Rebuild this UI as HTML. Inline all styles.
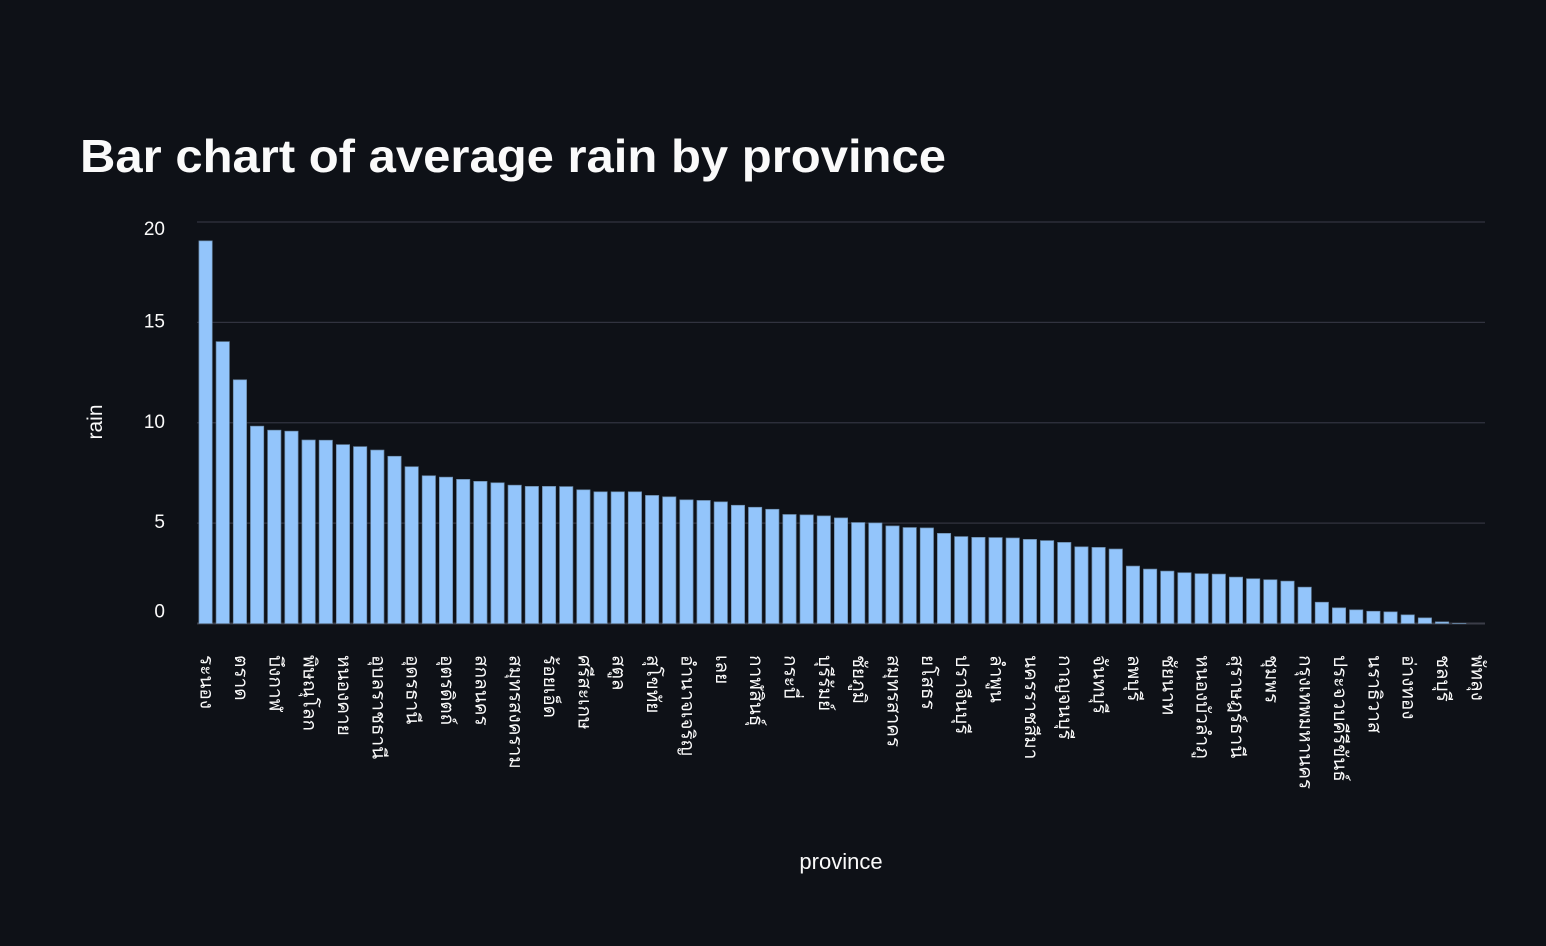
<!DOCTYPE html>
<html><head><meta charset="utf-8">
<style>
html,body{margin:0;padding:0;background:#0e1117;}
svg{display:block;}
</style></head>
<body>
<svg id="chart" width="1546" height="946" xmlns="http://www.w3.org/2000/svg">
<rect x="0" y="0" width="1546" height="946" fill="#0e1117"/>
<text x="80" y="172" fill="#fafafa" font-family="Liberation Sans, sans-serif" font-weight="bold" font-size="46" textLength="866" lengthAdjust="spacingAndGlyphs">Bar chart of average rain by province</text>
<g id="grid"></g>
<g id="bars"></g>
<g id="xlabels"></g>
<g id="ylabels"></g>
<text transform="translate(102,422) rotate(-90)" text-anchor="middle" fill="#fafafa" font-family="Liberation Sans, sans-serif" font-size="21">rain</text>
<text x="841" y="869" text-anchor="middle" fill="#fafafa" font-family="Liberation Sans, sans-serif" font-size="22">province</text>
</svg>
<script>
const provinces = ["ระนอง","พังงา","ตราด","นครพนม","บึงกาฬ","มุกดาหาร","พิษณุโลก","แพร่","หนองคาย","น่าน","อุบลราชธานี","ขอนแก่น","อุดรธานี","เชียงราย","อุตรดิตถ์","พะเยา","สกลนคร","ตรัง","สมุทรสงคราม","มหาสารคาม","ร้อยเอ็ด","สุรินทร์","ศรีสะเกษ","ยะลา","สตูล","ภูเก็ต","สุโขทัย","เชียงใหม่","อำนาจเจริญ","ลำปาง","เลย","แม่ฮ่องสอน","กาฬสินธุ์","นครศรีธรรมราช","กระบี่","ปัตตานี","บุรีรัมย์","สงขลา","ชัยภูมิ","ตาก","สมุทรสาคร","เพชรบูรณ์","ยโสธร","กำแพงเพชร","ปราจีนบุรี","พิจิตร","ลำพูน","นครสวรรค์","นครราชสีมา","อุทัยธานี","กาญจนบุรี","สระแก้ว","จันทบุรี","ระยอง","ลพบุรี","ฉะเชิงเทรา","ชัยนาท","นครนายก","หนองบัวลำภู","สระบุรี","สุราษฎร์ธานี","สิงห์บุรี","ชุมพร","ราชบุรี","กรุงเทพมหานคร","เพชรบุรี","ประจวบคีรีขันธ์","นครปฐม","นราธิวาส","สุพรรณบุรี","อ่างทอง","นนทบุรี","ชลบุรี","ปทุมธานี","พัทลุง"];
const rain = [19.06,14.04,12.14,9.83,9.63,9.58,9.14,9.13,8.91,8.81,8.64,8.33,7.81,7.36,7.29,7.18,7.08,7.01,6.89,6.83,6.83,6.82,6.66,6.56,6.56,6.56,6.38,6.31,6.16,6.13,6.06,5.89,5.79,5.69,5.43,5.41,5.36,5.26,5.03,5.01,4.86,4.78,4.76,4.49,4.33,4.29,4.28,4.26,4.19,4.13,4.04,3.82,3.79,3.71,2.86,2.71,2.61,2.53,2.48,2.46,2.31,2.23,2.18,2.11,1.81,1.06,0.78,0.68,0.61,0.58,0.43,0.28,0.08,0.01,0];
const yTicks = [0,5,10,15,20];

const NS = "http://www.w3.org/2000/svg";
const X0 = 197, X1 = 1485, Y0 = 623.5, YTOP = 222;
const yMax = 20;
function y(v){ return Y0 - (v / yMax) * (Y0 - YTOP); }
const band = (X1 - X0) / provinces.length;
function x(i){ return X0 + i * band; }

const grid = document.getElementById('grid');
const ylab = document.getElementById('ylabels');
yTicks.forEach((t, k) => {
  const l = document.createElementNS(NS, 'line');
  
  
  l.setAttribute('x1', X0); l.setAttribute('x2', X1);
  l.setAttribute('y1', y(t)); l.setAttribute('y2', y(t));
  l.setAttribute('stroke', t === 0 ? '#3b3d48' : '#31333f');
  l.setAttribute('stroke-width', t === 0 ? 2 : 1.3);
  grid.appendChild(l);
  const tx = document.createElementNS(NS, 'text');
  
  
  let off = 0;
  if (k === 0) off = -11; else if (k === yTicks.length - 1) off = 8;
  tx.setAttribute('x', 165); tx.setAttribute('y', y(t) + off);
  tx.setAttribute('text-anchor', 'end');
  tx.setAttribute('dominant-baseline', 'middle');
  tx.setAttribute('fill', '#fafafa');
  tx.setAttribute('font-family', 'Liberation Sans, sans-serif');
  tx.setAttribute('font-size', '19');
  tx.textContent = t;
  ylab.appendChild(tx);
});

const bars = document.getElementById('bars');
const xl = document.getElementById('xlabels');
const bw = band * 0.775;
rain.forEach((v, i) => {
  const r = document.createElementNS(NS, 'rect');
  
  
  const bx = x(i) + (band - bw) / 2;
  r.setAttribute('x', bx); r.setAttribute('width', bw);
  r.setAttribute('y', y(v)); r.setAttribute('height', Math.max(0, Y0 - y(v)));
  r.setAttribute('fill', '#93c5fb');
  r.setAttribute('stroke', '#6a89a8');
  r.setAttribute('stroke-width', '0.7');
  bars.appendChild(r);
});
provinces.forEach((p, i) => {
  if (i % 2 !== 0) return;
  const cx = x(i) + band / 2;
  const t = document.createElementNS(NS, 'text');
  
  
  t.setAttribute('x', cx); t.setAttribute('y', 655);
  t.setAttribute('transform', 'rotate(90,' + cx + ',655)');
  t.setAttribute('dominant-baseline', 'middle');
  t.setAttribute('fill', '#fafafa');
  t.setAttribute('font-family', 'Liberation Sans, sans-serif');
  t.setAttribute('font-size', '19');
  t.textContent = p;
  xl.appendChild(t);
});
</script>
</body></html>
